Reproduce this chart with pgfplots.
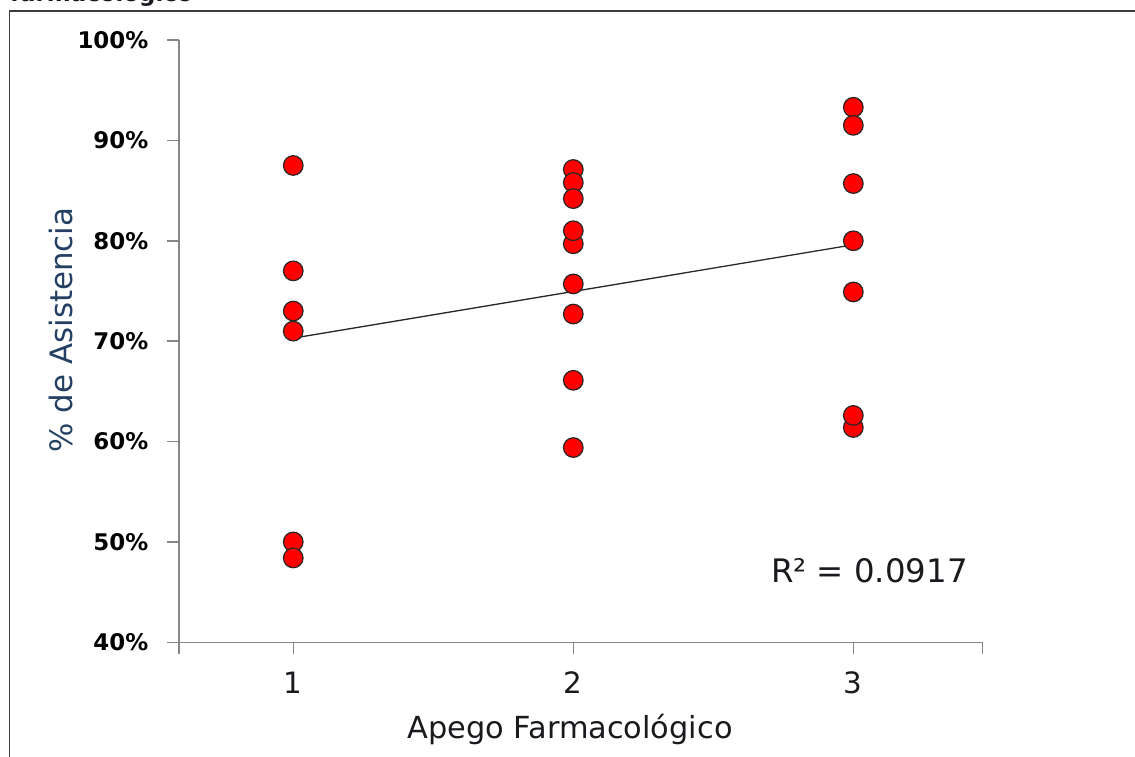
\documentclass[border=0pt]{standalone}
\usepackage{pgfplots}
\pgfplotsset{compat=1.18}
\usepackage{fontspec}
\setmainfont{DejaVu Sans}
\definecolor{ylab}{RGB}{36,64,98}
\definecolor{axgray}{RGB}{134,134,134}
\definecolor{framegray}{RGB}{60,60,60}
\definecolor{txt}{RGB}{25,25,30}

% adherence level vs. attendance (%)
\pgfplotstableread{
x y
1 87.5
1 77.0
1 73.0
1 71.0
1 50.0
1 48.4
2 87.1
2 85.8
2 84.2
2 79.7
2 81.0
2 75.7
2 72.7
2 66.1
2 59.4
3 93.3
3 91.5
3 85.7
3 80.0
3 74.9
3 61.4
3 62.6
}\datos

% linear trend line end points
\pgfplotstableread{
x y
1 70.3
3 79.6
}\tendencia

\begin{document}
\begin{tikzpicture}
\useasboundingbox (0bp,0bp) rectangle (1135bp,757bp);
\draw[framegray, line width=1.4bp] (9.5bp,0bp) -- (9.5bp,746bp) -- (1135bp,746bp);
\node[anchor=base west, inner sep=0pt, text=txt,
      font=\fontsize{23}{27}\selectfont\bfseries] at (10bp,755bp) {farmacológico};
\begin{axis}[
  at={(179bp,114.7bp)}, anchor=south west,
  scale only axis, width=803.7bp, height=602.3bp,
  xmin=0.592, xmax=3.462, ymin=40, ymax=100,
  axis lines=left,
  axis line style={axgray, line width=1.5bp, -},
  tick style={axgray, line width=1.5bp},
  tick align=outside, major tick length=11.5bp,
  xtick={0.592,1,2,3,3.462}, xticklabels={,1,2,3,},
  ytick={40,50,60,70,80,90,100},
  yticklabels={40\%,50\%,60\%,70\%,80\%,90\%,100\%},
  yticklabel style={font=\fontsize{23}{27}\selectfont\bfseries, text=black,
                    anchor=east, inner sep=0pt, xshift=-19bp},
  xticklabel style={font=\fontsize{29.5}{34}\selectfont, text=txt,
                    anchor=north, inner sep=0pt, yshift=-18bp},
  xlabel={Apego Farmacológico},
  xlabel style={at={(axis description cs:0.4865,-0.1589)}, anchor=base,
                font=\fontsize{30.5}{36}\selectfont, text=txt, inner sep=0pt},
  ylabel={\% de Asistencia},
  ylabel style={at={(axis description cs:-0.1323,0.5185)}, anchor=base,
                rotate=0, font=\fontsize{31}{36}\selectfont, text=ylab, inner sep=0pt},
  clip=false,
]
\addplot[only marks, mark=*, mark size=9.8bp,
         mark options={fill=red, draw=black!85, line width=1.2bp}]
  table[x=x, y=y] {\datos};
\addplot[black!85, line width=1.3bp] table[x=x, y=y] {\tendencia};
\end{axis}
\node[anchor=base west, inner sep=0pt, text=txt,
      font=\fontsize{32.5}{38}\selectfont] at (771bp,174.3bp) {R² = 0.0917};
\end{tikzpicture}
\end{document}
